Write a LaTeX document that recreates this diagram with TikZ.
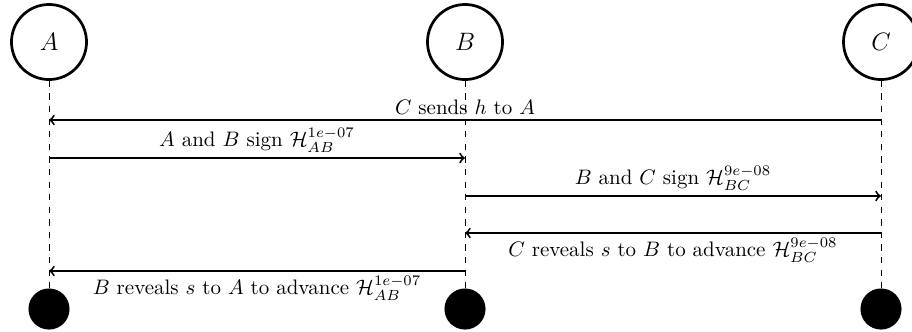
\documentclass[tikz,border=0pt]{standalone}
\begin{document}
\begin{tikzpicture}[x=0.477pt,y=-0.477pt,
  actor/.style={circle, draw, line width=1.3pt, fill=white, minimum size=35.8pt, inner sep=0pt},
  enddot/.style={circle, fill=black, minimum size=19.6pt, inner sep=0pt},
  lifeline/.style={dashed, thin},
  msg/.style={->, line width=0.9pt},
  lab/.style={inner sep=2pt}]
\useasboundingbox (0,0) rectangle (912,331);
\node[actor] (A) at (49,42) {\large $A$};
\node[actor] (B) at (465,42) {\large $B$};
\node[actor] (C) at (881,42) {\large $C$};
\node[enddot] (Ae) at (49,309) {};
\node[enddot] (Be) at (465,309) {};
\node[enddot] (Ce) at (881,309) {};
\draw[lifeline] (A) -- (Ae);
\draw[lifeline] (B) -- (Be);
\draw[lifeline] (C) -- (Ce);
\coordinate (a1) at (49,120);  \coordinate (c1) at (881,120);
\coordinate (a2) at (49,158);  \coordinate (b2) at (465,158);
\coordinate (b3) at (465,196); \coordinate (c3) at (881,196);
\coordinate (b4) at (465,233); \coordinate (c4) at (881,233);
\coordinate (a5) at (49,271);  \coordinate (b5) at (465,271);
\draw[msg] (c1) -- node[lab,above]{$C$ sends $h$ to $A$} (a1);
\draw[msg] (a2) -- node[lab,above]{$A$ and $B$ sign $\mathcal{H}_{AB}^{1e-07}$} (b2);
\draw[msg] (b3) -- node[lab,above]{$B$ and $C$ sign $\mathcal{H}_{BC}^{9e-08}$} (c3);
\draw[msg] (c4) -- node[lab,below]{$C$ reveals $s$ to $B$ to advance $\mathcal{H}_{BC}^{9e-08}$} (b4);
\draw[msg] (b5) -- node[lab,below]{$B$ reveals $s$ to $A$ to advance $\mathcal{H}_{AB}^{1e-07}$} (a5);
\end{tikzpicture}
\end{document}
